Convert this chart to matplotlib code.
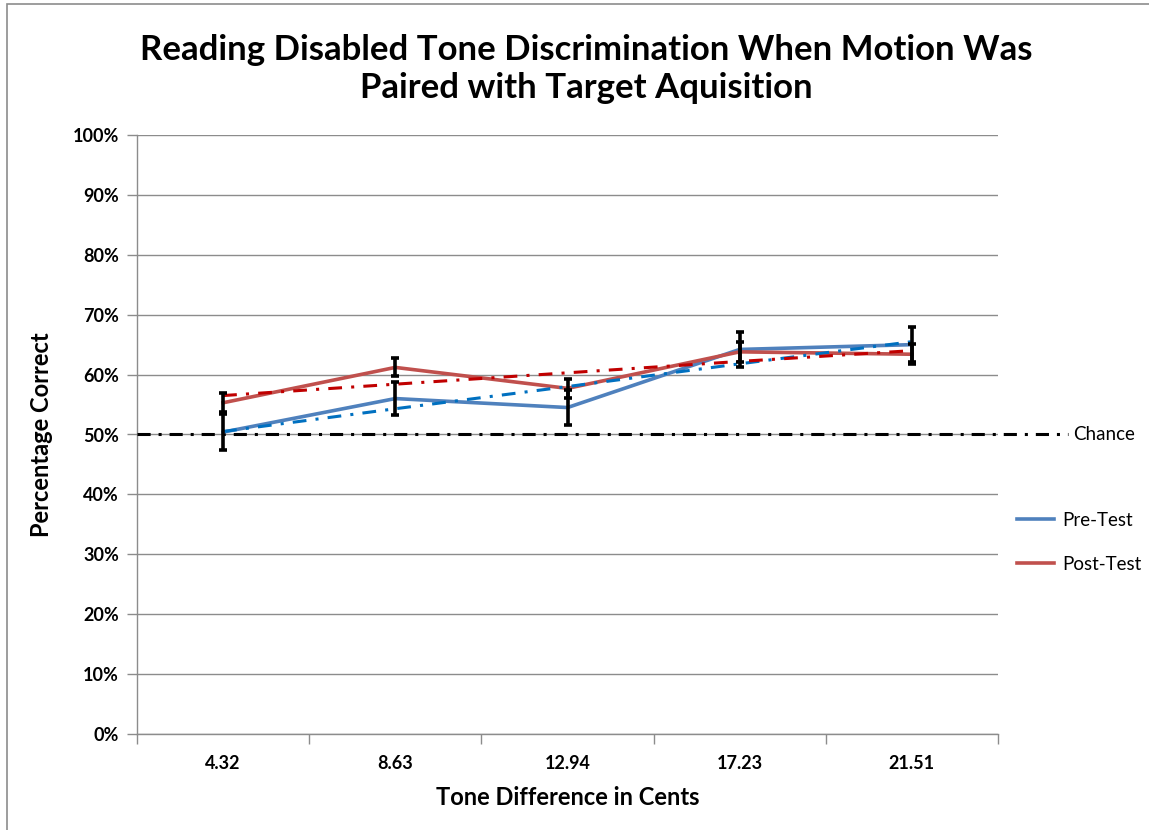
import matplotlib
matplotlib.use('Agg')
import matplotlib.pyplot as plt
import matplotlib.transforms as mtransforms
from matplotlib.patches import Rectangle

FONT = ['Lato', 'DejaVu Sans']

CATEGORIES = ['4.32', '8.63', '12.94', '17.23', '21.51']

PRE_TEST = [50.4, 56.0, 54.5, 64.2, 65.0]  # percent
POST_TEST = [55.3, 61.2, 57.7, 63.8, 63.4]
PRE_ERR = [3.0, 2.7, 2.9, 2.9, 2.9]
POST_ERR = [1.6, 1.5, 1.6, 1.7, 1.7]

# linear trendlines
PRE_TREND = [50.5, 54.3, 58.0, 61.8, 65.5]
POST_TREND = [56.5, 58.4, 60.3, 62.2, 64.0]

CHANCE = 50
Y_TICKS = [0, 10, 20, 30, 40, 50, 60, 70, 80, 90, 100]

PRE_COLOR = '#4F81BD'
POST_COLOR = '#C0504D'
PRE_TREND_COLOR = '#0070C0'
POST_TREND_COLOR = '#C00000'
GRID_COLOR = '#8C8C8C'

plt.rcParams['font.family'] = FONT

fig = plt.figure(figsize=(11.49, 8.30), dpi=100)
ax = fig.add_axes([137 / 1149, 1 - 734 / 830, 861 / 1149, 599 / 830])

# outer chart frame
fig.patches.append(Rectangle((7 / 1149, -0.05), 1.2, 1 - 4 / 830 + 0.05,
                             transform=fig.transFigure, fill=False,
                             edgecolor='#8C8C8C', linewidth=1.2))

x = list(range(len(CATEGORIES)))

ax.plot(x, PRE_TEST, color=PRE_COLOR, linewidth=2.6, label='Pre-Test', zorder=4)
ax.plot(x, POST_TEST, color=POST_COLOR, linewidth=2.6, label='Post-Test', zorder=4)

trend_style = (0, (4.5, 3, 1, 3))
ax.plot(x, PRE_TREND, color=PRE_TREND_COLOR, linewidth=2.2, linestyle=trend_style, zorder=5)
ax.plot(x, POST_TREND, color=POST_TREND_COLOR, linewidth=2.2, linestyle=trend_style, zorder=5)

ax.errorbar(x, PRE_TEST, yerr=PRE_ERR, fmt='none', ecolor='black',
            elinewidth=2.6, capsize=3, capthick=2.6, zorder=6)
ax.errorbar(x, POST_TEST, yerr=POST_ERR, fmt='none', ecolor='black',
            elinewidth=2.6, capsize=3, capthick=2.6, zorder=6)

# chance line runs past the plot area to its label
trans = mtransforms.blended_transform_factory(ax.transAxes, ax.transData)
ax.plot([0, 1.081], [CHANCE, CHANCE], transform=trans, clip_on=False,
        color='black', linewidth=2.2, linestyle=(0, (4.3, 2.6, 1, 2.6)), zorder=3)
ax.text(1.087, CHANCE, 'Chance', transform=trans, va='center', ha='left',
        fontsize=13.5)

ax.set_xlim(-0.5, len(CATEGORIES) - 0.5)
ax.set_ylim(0, 100)
ax.set_yticks(Y_TICKS)
ax.set_yticklabels([f'{t}%' for t in Y_TICKS], fontsize=13, fontweight='bold')
ax.set_xticks(x)
ax.set_xticklabels(CATEGORIES, fontsize=13, fontweight='bold')
ax.set_xticks([i - 0.5 for i in range(len(CATEGORIES) + 1)], minor=True)
ax.tick_params(axis='x', which='major', length=0, pad=15)
ax.tick_params(axis='x', which='minor', length=7, color=GRID_COLOR, width=1)
ax.tick_params(axis='y', length=7, color=GRID_COLOR, width=1, pad=6)

ax.grid(axis='y', color=GRID_COLOR, linewidth=1)
ax.set_axisbelow(True)
for side in ['top', 'right']:
    ax.spines[side].set_visible(False)
for side in ['left', 'bottom']:
    ax.spines[side].set_color(GRID_COLOR)
    ax.spines[side].set_linewidth(1)

ax.set_xlabel('Tone Difference in Cents', fontsize=17, fontweight='bold', labelpad=10)
ax.set_ylabel('Percentage Correct', fontsize=17, fontweight='bold', labelpad=14)

fig.text(586 / 1149, 1 - 69 / 830,
         'Reading Disabled Tone Discrimination When Motion Was\nPaired with Target Aquisition',
         ha='center', va='center', fontsize=25, fontweight='bold', linespacing=1.2)

ax.legend(loc='center left', bbox_to_anchor=(1.0, 0.32), frameon=False,
          fontsize=13.5, handlelength=2.0, labelspacing=1.45, handletextpad=0.4,
          borderaxespad=0.6)

fig.savefig('out.png', dpi=100)
